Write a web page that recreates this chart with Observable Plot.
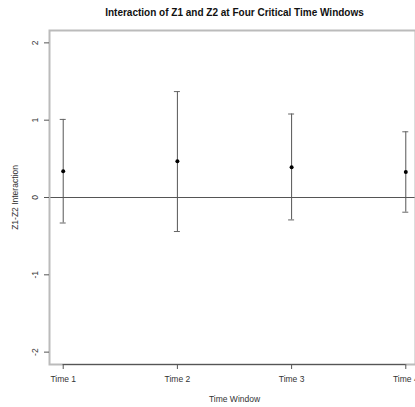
<!DOCTYPE html>
<html><head><meta charset="utf-8">
<script src="https://cdn.jsdelivr.net/npm/d3@7"></script>
<script src="https://cdn.jsdelivr.net/npm/@observablehq/plot@0.6"></script>
<style>body{margin:0;background:#fff;} svg{display:block;}</style>
</head><body><div id="chart"></div>
<script>
const windows = ["Time 1", "Time 2", "Time 3", "Time 4"];
const estimates = [0.34, 0.47, 0.39, 0.33];
const lowers = [-0.33, -0.44, -0.29, -0.19];
const uppers = [1.01, 1.37, 1.08, 0.85];
const yTicks = [-2, -1, 0, 1, 2];

const data = windows.map((w, i) => ({w, x: i + 1, est: estimates[i], lo: lowers[i], hi: uppers[i]}));
const font = "Liberation Sans, Arial, sans-serif";

const chart = Plot.plot({
  width: 415, height: 407,
  marginTop: 30, marginBottom: 43, marginLeft: 49, marginRight: 0,
  style: {fontFamily: font, background: "#fff"},
  x: {type: "linear", domain: [0.88, 4.12], range: [49, 419], axis: null},
  y: {domain: [-2.16, 2.16], axis: null},
  marks: [
    Plot.ruleY([0], {x1: 0.88, x2: 4.12, stroke: "#555", strokeWidth: 1}),
    Plot.ruleX(data, {x: "x", y1: "lo", y2: "hi", stroke: "#555", strokeWidth: 1}),
    Plot.ruleY(data, {y: "hi", x1: "x", x2: "x", insetLeft: -3, insetRight: -3, stroke: "#666", strokeWidth: 1}),
    Plot.ruleY(data, {y: "lo", x1: "x", x2: "x", insetLeft: -3, insetRight: -3, stroke: "#666", strokeWidth: 1}),
    Plot.dot(data, {x: "x", y: "est", r: 2, fill: "#000", stroke: null}),
    Plot.frame({stroke: "#bbb", strokeWidth: 2}),
    // x axis line and ticks
    Plot.ruleY([-2.16], {x1: 1, x2: 4, stroke: "#555", strokeWidth: 1}),
    Plot.ruleX(data, {x: "x", y1: -2.16, y2: -2.16, insetBottom: -5, stroke: "#555"}),
    Plot.text(data, {x: "x", y: -2.16, text: "w", dy: 15, fontSize: 8.5, fill: "#333"}),
    // y axis ticks and labels
    Plot.ruleY(yTicks, {x1: 0.88, x2: 0.88, insetLeft: -5, stroke: "#555"}),
    Plot.text(yTicks, {x: 0.88, y: d => d, text: d => String(d), dx: -14, rotate: -90, fontSize: 8.5, fill: "#333"}),
    // titles
    Plot.text(["Interaction of Z1 and Z2 at Four Critical Time Windows"], {x: 2.5, frameAnchor: "top", lineAnchor: "middle", dy: -18, fontSize: 10, fontWeight: "bold", fill: "#111"}),
    Plot.text(["Time Window"], {x: 2.5, frameAnchor: "bottom", lineAnchor: "middle", dy: 35, fontSize: 8.5, fill: "#333"}),
    Plot.text(["Z1-Z2 Interaction"], {y: 0, frameAnchor: "left", textAnchor: "middle", lineAnchor: "middle", dx: -34, rotate: -90, fontSize: 8.5, fill: "#333"})
  ]
});
document.getElementById("chart").appendChild(chart);
</script>
</body></html>
